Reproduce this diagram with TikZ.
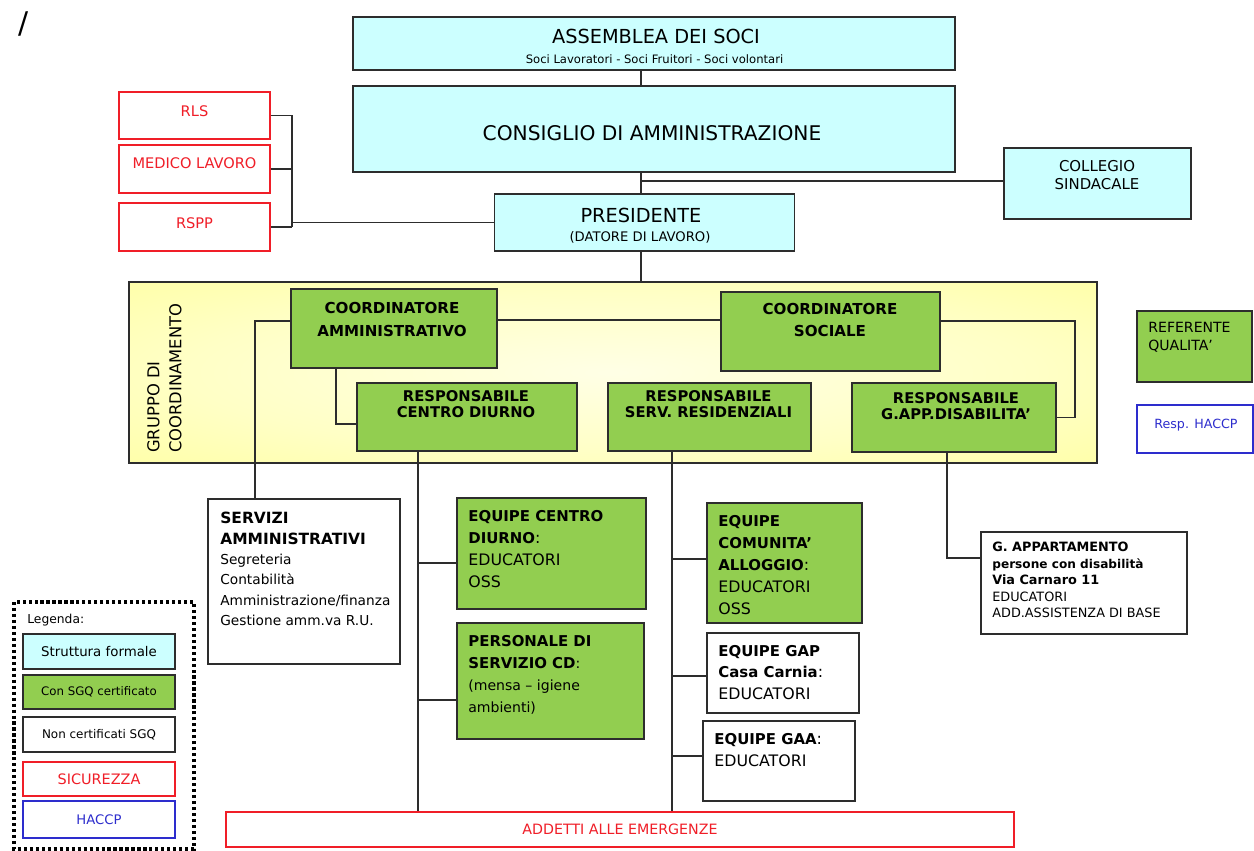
\documentclass[tikz,border=0pt]{standalone}
\usepackage{fontspec}
\setmainfont{DejaVu Sans}
\definecolor{cielo}{RGB}{204,255,255}
\definecolor{verde}{RGB}{146,206,80}
\definecolor{rosso}{RGB}{240,30,40}
\definecolor{blu}{RGB}{45,45,205}
\definecolor{giallo}{RGB}{255,255,140}
\definecolor{bordo}{RGB}{45,45,45}
\colorlet{gialloA}{giallo!22}
\colorlet{gialloB}{giallo!50}
\colorlet{gialloC}{giallo}
\pgfdeclareradialshading{gialloradiale}{\pgfpoint{0bp}{0bp}}{color(0bp)=(gialloA); color(22bp)=(gialloB); color(50bp)=(gialloC)}
\newcommand{\fsz}[2]{\fontsize{#1}{#2}\selectfont}
\newcommand{\grassetto}[1]{{\bfseries\fsz{8.5}{12.5}#1}}
\tikzset{
  box/.style={draw=bordo, line width=0.7pt, inner sep=0pt},
  formale/.style={box, fill=cielo},
  sgq/.style={box, fill=verde},
  nonsgq/.style={box, fill=white},
  sicur/.style={box, draw=rosso, fill=white, text=rosso},
  haccpbox/.style={box, draw=blu, fill=white, text=blu},
  txt/.style={inner sep=0pt, align=left},
  link/.style={draw=bordo, line width=0.7pt},
  legenda/.style={draw=black, line width=1.8pt, dash pattern=on 1.8pt off 1.6pt}
}
\begin{document}
\begin{tikzpicture}[x=0.02cm, y=-0.02cm]
  \useasboundingbox (0,0) rectangle (1254,850);
  \node[inner sep=0pt, font=\fsz{17}{17}] (barra) at (24,24) {/};
  % gruppo di coordinamento (sfondo)
  \node[box, shading=gialloradiale, shade, minimum width=19.36cm, minimum height=3.62cm] (gruppo) at (613,372.5) {};
  \node[txt, rotate=90, anchor=north west, font=\fsz{9.3}{12.5}] (gruppo-t) at (147,453) {GRUPPO DI\\COORDINAMENTO};
  % vertice
  \node[formale, minimum width=12.04cm, minimum height=1.06cm] (assemblea) at (654,43.5) {};
  \node[txt, anchor=north, font=\fsz{11}{13}] (assemblea-t) at (656,29) {ASSEMBLEA DEI SOCI};
  \node[txt, anchor=north, font=\fsz{6.6}{8}] (assemblea-s) at (654.5,54) {Soci Lavoratori - Soci Fruitori - Soci volontari};
  \node[formale, minimum width=12.04cm, minimum height=1.72cm] (cda) at (654,129) {};
  \node[txt, anchor=north, font=\fsz{11.5}{13}] (cda-t) at (652,125) {CONSIGLIO DI AMMINISTRAZIONE};
  \node[formale, minimum width=6cm, minimum height=1.14cm] (pres) at (644.5,222.5) {};
  \node[txt, anchor=north, font=\fsz{11}{13}] (pres-t) at (641,208) {PRESIDENTE};
  \node[txt, anchor=north, font=\fsz{7.5}{9}] (pres-s) at (640,231) {(DATORE DI LAVORO)};
  \node[formale, minimum width=3.74cm, minimum height=1.42cm] (collegio) at (1097.5,183.5) {};
  \node[txt, align=center, anchor=north, font=\fsz{8.5}{10.2}] (collegio-t) at (1097,160) {COLLEGIO\\SINDACALE};
  % sicurezza
  \node[sicur, minimum width=3.02cm, minimum height=0.94cm] (rls) at (194.5,115.5) {};
  \node[txt, anchor=north, text=rosso, font=\fsz{8.3}{10}] (rls-t) at (194.5,105) {RLS};
  \node[sicur, minimum width=3.02cm, minimum height=0.96cm] (medico) at (194.5,169) {};
  \node[txt, anchor=north, text=rosso, font=\fsz{8.3}{10}] (medico-t) at (194.5,157) {MEDICO LAVORO};
  \node[sicur, minimum width=3.02cm, minimum height=0.96cm] (rspp) at (194.5,227) {};
  \node[txt, anchor=north, text=rosso, font=\fsz{8.3}{10}] (rspp-t) at (194.5,217) {RSPP};
  % coordinatori e responsabili
  \node[sgq, minimum width=4.12cm, minimum height=1.58cm] (camm) at (394,328.5) {};
  \node[txt, align=center, anchor=north, font=\bfseries\fsz{8.6}{13}] (camm-t) at (392,302) {COORDINATORE\\AMMINISTRATIVO};
  \node[sgq, minimum width=4.38cm, minimum height=1.58cm] (csoc) at (830.5,331.5) {};
  \node[txt, align=center, anchor=north, font=\bfseries\fsz{8.6}{12.5}] (csoc-t) at (830,303) {COORDINATORE\\SOCIALE};
  \node[sgq, minimum width=4.4cm, minimum height=1.36cm] (rcd) at (467,417) {};
  \node[txt, align=center, anchor=north, font=\bfseries\fsz{8.4}{9.2}] (rcd-t) at (466,390) {RESPONSABILE\\CENTRO DIURNO};
  \node[sgq, minimum width=4.06cm, minimum height=1.36cm] (rsr) at (709.5,417) {};
  \node[txt, align=center, anchor=north, font=\bfseries\fsz{8.4}{9.2}] (rsr-t) at (708.5,390) {RESPONSABILE\\SERV. RESIDENZIALI};
  \node[sgq, minimum width=4.08cm, minimum height=1.38cm] (rgapp) at (954,417.5) {};
  \node[txt, align=center, anchor=north, font=\bfseries\fsz{8.4}{9.2}] (rgapp-t) at (956,392) {RESPONSABILE\\G.APP.DISABILITA'};
  \node[sgq, minimum width=2.3cm, minimum height=1.42cm] (referente) at (1194.5,346.5) {};
  \node[txt, anchor=north west, font=\fsz{8}{10.2}] (referente-t) at (1148,322) {REFERENTE\\QUALITA'};
  \node[haccpbox, minimum width=2.32cm, minimum height=0.96cm] (haccp) at (1195,429) {};
  \node[txt, anchor=north west, text=blu, font=\fsz{7.2}{9}] (haccp-t) at (1154,419) {Resp. HACCP};
  % servizi ed equipe
  \node[nonsgq, minimum width=3.84cm, minimum height=3.3cm] (servizi) at (304,581.5) {};
  \node[txt, anchor=north west, font=\fsz{7.8}{11.6}] (servizi-t) at (220,512) {{\bfseries\fsz{8.8}{11.6}SERVIZI}\\{\bfseries\fsz{8.8}{11.6}AMMINISTRATIVI}\\Segreteria\\Contabilità\\Amministrazione/finanza\\Gestione amm.va R.U.};
  \node[sgq, minimum width=3.78cm, minimum height=2.22cm] (ecd) at (551.5,553.5) {};
  \node[txt, anchor=north west, font=\fsz{9}{12.5}] (ecd-t) at (468,510) {\grassetto{EQUIPE CENTRO}\\\grassetto{DIURNO}:\\EDUCATORI\\OSS};
  \node[sgq, minimum width=3.74cm, minimum height=2.32cm] (pers) at (550.5,681) {};
  \node[txt, anchor=north west, font=\fsz{8}{12.5}] (pers-t) at (468,635) {\grassetto{PERSONALE DI}\\\grassetto{SERVIZIO CD}:\\(mensa – igiene\\ambienti)};
  \node[sgq, minimum width=3.1cm, minimum height=2.4cm] (eca) at (784.5,563) {};
  \node[txt, anchor=north west, font=\fsz{9}{12.5}] (eca-t) at (718,515) {\grassetto{EQUIPE}\\\grassetto{COMUNITA'}\\\grassetto{ALLOGGIO}:\\EDUCATORI\\OSS};
  \node[nonsgq, minimum width=3.04cm, minimum height=1.6cm] (egap) at (783,673) {};
  \node[txt, anchor=north west, font=\fsz{9}{12.2}] (egap-t) at (718,645) {\grassetto{EQUIPE GAP}\\\grassetto{Casa Carnia}:\\EDUCATORI};
  \node[nonsgq, minimum width=3.04cm, minimum height=1.6cm] (egaa) at (779,761) {};
  \node[txt, anchor=north west, font=\fsz{9}{12.5}] (egaa-t) at (714,733) {\grassetto{EQUIPE GAA}:\\EDUCATORI};
  \node[nonsgq, minimum width=4.12cm, minimum height=2.04cm] (gapp) at (1084,583) {};
  \node[txt, anchor=north west, font=\fsz{7.3}{9.4}] (gapp-t) at (992,542) {\textbf{G. APPARTAMENTO}\\{\bfseries\fsz{6.9}{9.4}persone con disabilità}\\\textbf{Via Carnaro 11}\\EDUCATORI\\ADD.ASSISTENZA DI BASE};
  \node[sicur, minimum width=15.76cm, minimum height=0.7cm, font=\fsz{8.1}{10}] (addetti) at (620,829.5) {ADDETTI ALLE EMERGENZE};
  % legenda
  \draw[legenda] (14,602) rectangle (194,849);
  \node[txt, anchor=north west, font=\fsz{7}{9}] (legenda-t) at (27,614) {Legenda:};
  \node[formale, minimum width=3.04cm, minimum height=0.7cm, font=\fsz{7.6}{9}] (leg1) at (99,651.5) {Struttura formale};
  \node[sgq, minimum width=3.04cm, minimum height=0.68cm, font=\fsz{6.7}{9}] (leg2) at (99,692) {Con SGQ certificato};
  \node[nonsgq, minimum width=3.04cm, minimum height=0.7cm, font=\fsz{6.8}{9}] (leg3) at (99,734.5) {Non certificati SGQ};
  \node[sicur, minimum width=3.04cm, minimum height=0.68cm, font=\fsz{8.2}{9}] (leg4) at (99,779) {SICUREZZA};
  \node[haccpbox, minimum width=3.04cm, minimum height=0.74cm, font=\fsz{7.5}{9}] (leg5) at (99,819.5) {HACCP};
  % collegamenti
  \coordinate (asse) at (641,181);
  \coordinate (sicbus) at (292,0);
  \coordinate (riga) at (0,320);
  \coordinate (ammbus) at (255,321);
  \coordinate (cdj) at (336,424);
  \coordinate (socj) at (1075,321);
  \coordinate (cdbus) at (418,0);
  \coordinate (ecdj) at (418,563);
  \coordinate (persj) at (418,700);
  \coordinate (resbus) at (672,0);
  \coordinate (ecaj) at (672,559);
  \coordinate (egapj) at (672,676);
  \coordinate (egaaj) at (672,756);
  \coordinate (gappj) at (947,558);
  \draw[link] (assemblea.south -| asse) -- (cda.north -| asse);
  \draw[link] (cda.south -| asse) -- (pres.north -| asse);
  \draw[link] (asse) -- (asse -| collegio.west);
  \draw[link] (pres.south -| asse) -- (gruppo.north -| asse);
  \draw[link] (rls.east) -- (rls.east -| sicbus) -- (rspp.east -| sicbus);
  \draw[link] (medico.east) -- (medico.east -| sicbus);
  \draw[link] (rspp.east) -- (rspp.east -| sicbus);
  \draw[link] (pres.west) -- (pres.west -| sicbus);
  \draw[link] (camm.east |- riga) -- (csoc.west |- riga);
  \draw[link] (camm.west |- ammbus) -- (ammbus) -- (ammbus |- servizi.north);
  \draw[link] (camm.south -| cdj) -- (cdj) -- (cdj -| rcd.west);
  \draw[link] (csoc.east |- socj) -- (socj) |- (rgapp.east);
  \draw[link] (rcd.south -| cdbus) -- (addetti.north -| cdbus);
  \draw[link] (ecdj) -- (ecdj -| ecd.west);
  \draw[link] (persj) -- (persj -| pers.west);
  \draw[link] (rsr.south -| resbus) -- (addetti.north -| resbus);
  \draw[link] (ecaj) -- (ecaj -| eca.west);
  \draw[link] (egapj) -- (egapj -| egap.west);
  \draw[link] (egaaj) -- (egaaj -| egaa.west);
  \draw[link] (rgapp.south -| gappj) -- (gappj) -- (gappj -| gapp.west);
\end{tikzpicture}
\end{document}
